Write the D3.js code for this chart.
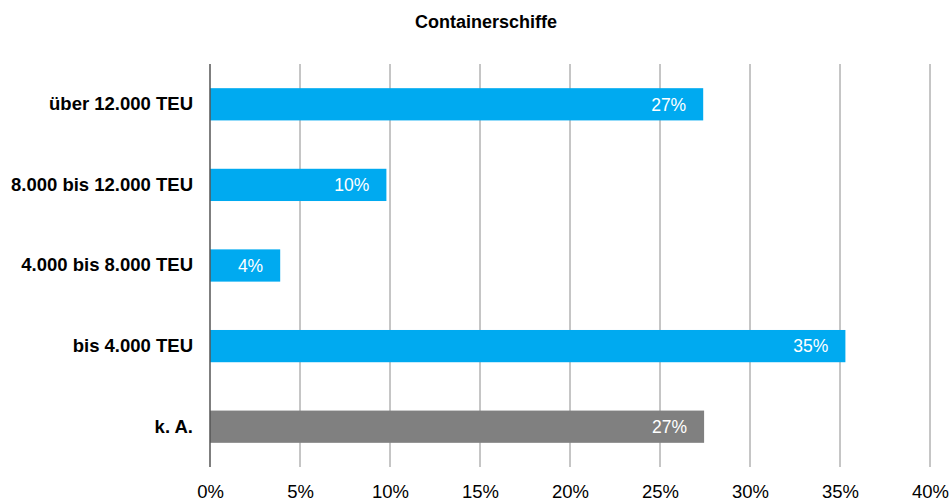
<!DOCTYPE html>
<html>
<head>
<meta charset="utf-8">
<script src="https://cdn.jsdelivr.net/npm/d3@7"></script>
<style>
  html, body { margin: 0; padding: 0; background: #fff; }
  svg { display: block; font-family: "Liberation Sans", Arial, sans-serif; }
</style>
</head>
<body>
<svg id="chart" width="949" height="501"></svg>
<script>
// Share of container ships by size class (percent)
const categories = ["über 12.000 TEU", "8.000 bis 12.000 TEU", "4.000 bis 8.000 TEU", "bis 4.000 TEU", "k. A."];
const values = [27.4, 9.8, 3.9, 35.3, 27.45];
const barColors = ["#00aaf0", "#00aaf0", "#00aaf0", "#00aaf0", "#808080"];
const xTicks = [0, 5, 10, 15, 20, 25, 30, 35, 40];
const title = "Containerschiffe";

const svg = d3.select("#chart");
const margin = { top: 64, left: 210, right: 19, bottom: 34 };
const W = 949, H = 501;

const x = d3.scaleLinear().domain([0, 40]).range([margin.left, W - margin.right]);
const y = d3.scaleBand().domain(categories).range([margin.top, H - margin.bottom]).paddingInner(0.6).paddingOuter(0.3);

// Title
svg.append("text")
  .attr("x", 486).attr("y", 28)
  .attr("text-anchor", "middle")
  .attr("font-weight", "bold")
  .attr("font-size", 18)
  .text(title);

// Vertical gridlines
svg.append("g")
  .selectAll("line")
  .data(xTicks.slice(1))
  .join("line")
  .attr("x1", d => x(d)).attr("x2", d => x(d))
  .attr("y1", margin.top).attr("y2", H - margin.bottom)
  .attr("stroke", "#8c8c8c").attr("stroke-width", 1);

// Bars
svg.append("g")
  .selectAll("rect")
  .data(categories)
  .join("rect")
  .attr("x", x(0))
  .attr("y", d => y(d))
  .attr("width", (d, i) => x(values[i]) - x(0))
  .attr("height", y.bandwidth())
  .attr("fill", (d, i) => barColors[i]);

// Value labels inside bars
svg.append("g")
  .selectAll("text")
  .data(categories)
  .join("text")
  .attr("x", (d, i) => x(values[i]) - 17)
  .attr("y", d => y(d) + y.bandwidth() / 2)
  .attr("dy", "0.36em")
  .attr("text-anchor", "end")
  .attr("fill", "#fff")
  .attr("font-size", 17.5)
  .text((d, i) => Math.round(values[i]) + "%");

// Y axis (category labels and left line)
const yAxis = svg.append("g")
  .attr("transform", `translate(${x(0)},0)`)
  .call(d3.axisLeft(y).tickSize(0).tickPadding(17));
yAxis.select(".domain").remove();
yAxis.selectAll("text")
  .attr("font-size", 18.5)
  .attr("font-weight", "bold")
  .attr("fill", "#000")
  .attr("font-family", "Liberation Sans, Arial, sans-serif");

svg.append("line")
  .attr("x1", x(0)).attr("x2", x(0))
  .attr("y1", margin.top).attr("y2", H - margin.bottom)
  .attr("stroke", "#555").attr("stroke-width", 1.5);

// X axis tick labels
const xAxis = svg.append("g")
  .attr("transform", `translate(0,${H - margin.bottom})`)
  .call(d3.axisBottom(x).tickValues(xTicks).tickSize(0).tickPadding(18).tickFormat(d => d + "%"));
xAxis.select(".domain").remove();
xAxis.selectAll("text")
  .attr("font-size", 18.5)
  .attr("fill", "#000")
  .attr("font-family", "Liberation Sans, Arial, sans-serif");
</script>
</body>
</html>
